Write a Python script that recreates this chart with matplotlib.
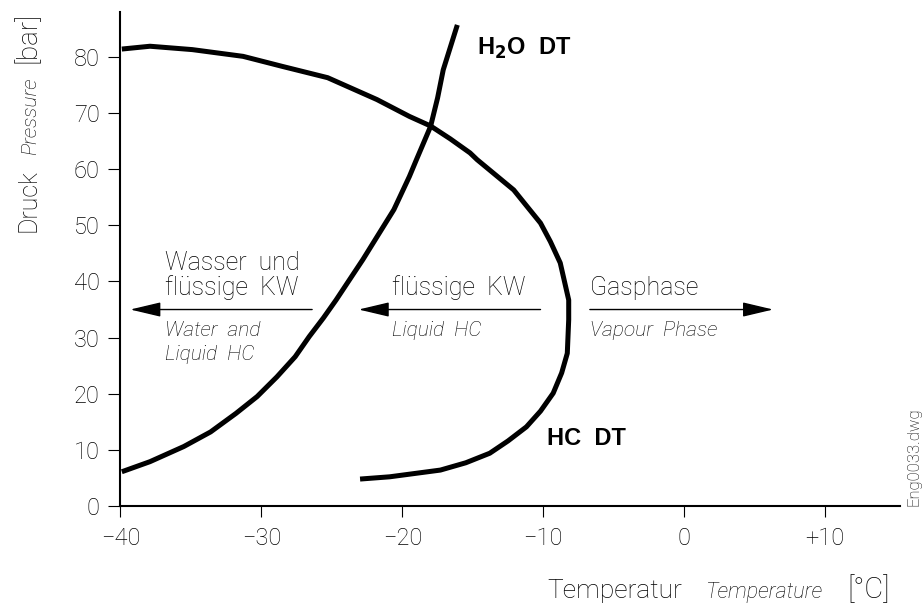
import matplotlib
matplotlib.use('Agg')
import matplotlib.pyplot as plt
from matplotlib.transforms import IdentityTransform

# H2O dew point curve (temperature degC, pressure bar)
h2o_t = [-39.9, -37.9, -35.5, -33.6, -31.8, -30.3, -28.9, -27.6, -26.6, -25.6, -24.7, -22.8, -20.6,
         -19.5, -19.0, -18.0, -17.5, -17.1, -16.1]
h2o_p = [6.1, 7.9, 10.6, 13.2, 16.5, 19.5, 23.0, 26.6, 30.2, 33.5, 36.7, 43.9, 52.8,
         58.7, 61.7, 67.6, 72.7, 77.7, 85.7]

# hydrocarbon dew point curve
hc_t = [-39.9, -37.9, -34.9, -31.3, -28.5, -25.3, -21.8, -19.5, -18.0, -16.6, -15.2, -14.7, -12.1,
        -11.2, -10.2, -9.5, -8.8, -8.2, -8.2, -8.3, -8.7, -9.3, -10.2, -11.2, -12.5, -13.8,
        -15.5, -17.3, -20.9, -23.0]
hc_p = [81.4, 81.9, 81.3, 80.1, 78.3, 76.3, 72.4, 69.4, 67.7, 65.4, 62.9, 61.7, 56.3,
        53.5, 50.4, 47.1, 43.3, 36.7, 33.2, 27.2, 23.7, 20.1, 16.9, 14.1, 11.6, 9.4,
        7.7, 6.4, 5.2, 4.8]

x_ticks = [-40, -30, -20, -10, 0, 10]
x_labels = ['\u221240', '\u221230', '\u221220', '\u221210', '0', '+10']
y_ticks = [0, 10, 20, 30, 40, 50, 60, 70, 80]

thin = 'Roboto'
W, H = 922, 606

fig = plt.figure(figsize=(W / 100, H / 100), dpi=100)
ax = fig.add_axes([120.4 / W, 1 - 506 / H, (900 - 120.4) / W, (506 - 12) / H])

ax.plot(h2o_t, h2o_p, color='black', lw=3.6, solid_capstyle='butt', solid_joinstyle='round', clip_on=False)
ax.plot(hc_t, hc_p, color='black', lw=3.6, solid_capstyle='butt', solid_joinstyle='round', clip_on=False)

ax.set_xlim(-40, 15.3)
ax.set_ylim(0, 88)
for s in ['top', 'right']:
    ax.spines[s].set_visible(False)
for s in ['left', 'bottom']:
    ax.spines[s].set_linewidth(1.5)

ax.set_xticks(x_ticks)
ax.set_xticklabels(x_labels)
ax.set_yticks(y_ticks)
ax.tick_params(axis='x', direction='out', length=8, width=0.8, pad=7, labelsize=17)
ax.tick_params(axis='y', direction='out', length=9, width=0.8, pad=6, labelsize=17)
for lab in ax.get_xticklabels() + ax.get_yticklabels():
    lab.set_family(thin)
    lab.set_fontweight('light')

# arrows
arr = dict(arrowstyle='-|>,head_length=1.9,head_width=0.45', mutation_scale=10,
           color='black', lw=1.0, shrinkA=0, shrinkB=0)
ax.annotate('', xy=(-39.3, 35), xytext=(-26.4, 35), arrowprops=arr)
ax.annotate('', xy=(-23.1, 35), xytext=(-10.2, 35), arrowprops=arr)
ax.annotate('', xy=(6.3, 35), xytext=(-6.7, 35), arrowprops=arr)

tkw = dict(family=thin, fontweight='light', fontsize=18, color='black', va='baseline')
ikw = dict(family=thin, fontweight='light', fontsize=15, style='italic', color='black', va='baseline')
ax.text(-36.85, 42.1, 'Wasser  und', **tkw)
ax.text(-36.85, 37.6, 'flüssige  KW', **tkw)
ax.text(-36.85, 30.2, 'Water  and', **ikw)
ax.text(-36.85, 26.0, 'Liquid  HC', **ikw)
ax.text(-20.76, 37.6, 'flüssige  KW', **tkw)
ax.text(-20.76, 30.2, 'Liquid  HC', **ikw)
ax.text(-6.7, 37.6, 'Gasphase', **tkw)
ax.text(-6.7, 30.2, 'Vapour  Phase', **ikw)

bkw = dict(family='Liberation Sans', fontweight='bold', fontsize=17, color='black', va='baseline')
ax.text(-14.73, 80.4, r'H$_\mathbf{2}$O  DT', **bkw)
ax.text(-9.71, 10.87, 'HC  DT', **bkw)

# axis titles: pieces of different style, chained by measured width (pixel coords)
fig.canvas.draw()
renderer = fig.canvas.get_renderer()
pix = IdentityTransform()

x_parts = [('[°C]', 21, 'normal'), ('Temperature', 15.5, 'italic'), ('Temperatur', 19, 'normal')]
xr = 890
for txt, size, st in x_parts:
    t = fig.text(xr, H - 598, txt, transform=pix, family=thin, fontweight='light', fontsize=size,
                 style=st, ha='right', va='baseline', rotation_mode='anchor')
    bb = t.get_window_extent(renderer)
    xr = bb.x0 - 24

y_parts = [('[bar]', 20, 'normal'), ('Pressure', 15, 'italic'), ('Druck', 18, 'normal')]
yt = H - 12
for txt, size, st in y_parts:
    t = fig.text(36, yt, txt, transform=pix, family=thin, fontweight='light', fontsize=size,
                 style=st, rotation=90, ha='right', va='baseline', rotation_mode='anchor')
    bb = t.get_window_extent(renderer)
    yt = bb.y0 - 14

fig.text(918, H - 506, 'Eng0033.dwg', transform=pix, family=thin, fontweight='light', fontsize=12,
         rotation=90, ha='left', va='baseline', rotation_mode='anchor')

fig.savefig('out.png', dpi=100)
